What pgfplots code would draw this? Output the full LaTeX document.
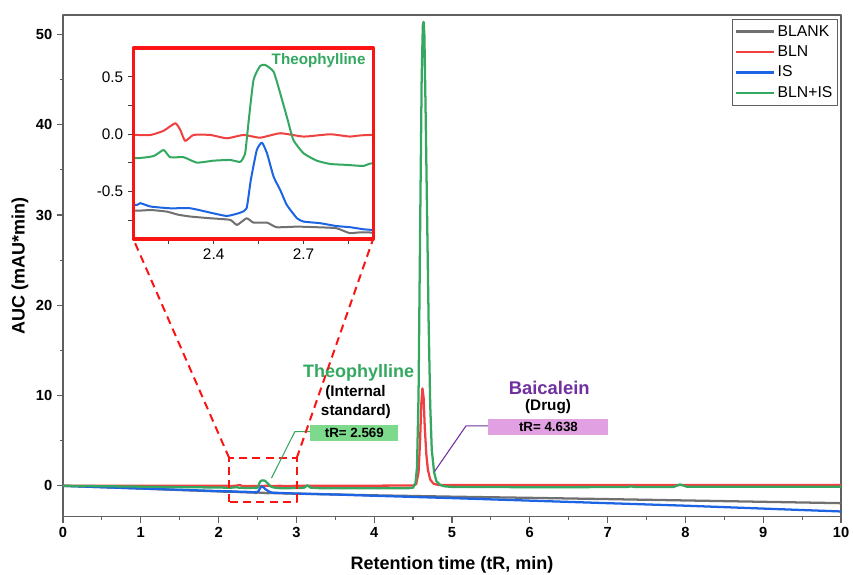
\documentclass[border=0pt]{standalone}
\usepackage{fontspec}
\setmainfont{Liberation Sans}
\usepackage{pgfplots}
\usepackage{pgfplotstable}
\pgfplotsset{compat=1.18}

\definecolor{cBlank}{RGB}{112,112,112}
\definecolor{cBln}{RGB}{240,64,64}
\definecolor{cIs}{RGB}{28,100,228}
\definecolor{cMix}{RGB}{52,168,96}
\definecolor{cBai}{RGB}{112,48,160}
\definecolor{boxGreen}{RGB}{125,218,140}
\definecolor{boxLilac}{RGB}{225,160,225}
\definecolor{zoomRed}{RGB}{250,20,20}
\definecolor{axGray}{RGB}{96,96,96}

% Chromatograms: retention time (min) vs. signal
\pgfplotstableread{
x y
0 0
0.5 -0.15
1.0 -0.3
1.5 -0.46
2.0 -0.62
2.139 -0.665
2.19 -0.66
2.244 -0.674
2.28 -0.70
2.322 -0.717
2.389 -0.732
2.455 -0.746
2.478 -0.79
2.51 -0.732
2.533 -0.77
2.578 -0.77
2.61 -0.81
2.678 -0.805
2.744 -0.81
2.81 -0.819
2.855 -0.862
2.928 -0.857
3.5 -0.96
4.0 -1.05
5.0 -1.2
6.0 -1.33
7.0 -1.47
8.0 -1.62
9.0 -1.77
10.0 -1.92
}\blank

\pgfplotstableread{
x y
0 0.02
1.0 0.02
2.0 0.0
2.139 -0.006
2.19 -0.006
2.233 0.03
2.272 0.096
2.289 0.037
2.305 -0.058
2.333 -0.006
2.389 -0.006
2.444 -0.035
2.50 -0.006
2.555 -0.03
2.622 0.009
2.70 -0.02
2.789 0.0
2.855 -0.02
2.928 -0.006
3.5 0.0
4.0 0.02
4.50 0.03
4.54 0.2
4.57 1.5
4.59 5.0
4.605 9.0
4.62 10.8
4.635 9.8
4.65 6.5
4.67 3.5
4.69 1.8
4.72 0.7
4.76 0.25
4.82 0.1
5.0 0.08
10.0 0.08
}\bln

\pgfplotstableread{
x y
0 0
1 -0.3
2 -0.58
2.139 -0.616
2.155 -0.6
2.19 -0.63
2.255 -0.645
2.322 -0.645
2.389 -0.683
2.444 -0.712
2.489 -0.683
2.51 -0.645
2.524 -0.398
2.544 -0.137
2.561 -0.073
2.578 -0.166
2.60 -0.37
2.622 -0.485
2.644 -0.616
2.678 -0.732
2.70 -0.761
2.755 -0.775
2.81 -0.8
2.855 -0.81
2.90 -0.828
2.928 -0.834
3.5 -0.96
4 -1.1
5 -1.36
6 -1.64
7 -1.92
8 -2.2
9 -2.52
10 -2.84
}\istd

\pgfplotstableread{
x y
0 0
0.5 -0.04
1.0 -0.09
1.5 -0.14
2.0 -0.19
2.139 -0.209
2.20 -0.19
2.233 -0.137
2.255 -0.2
2.30 -0.2
2.344 -0.247
2.40 -0.23
2.455 -0.224
2.489 -0.24
2.505 -0.166
2.516 0.096
2.533 0.473
2.555 0.595
2.572 0.604
2.60 0.545
2.622 0.357
2.644 0.153
2.666 -0.05
2.70 -0.166
2.744 -0.23
2.789 -0.259
2.844 -0.267
2.90 -0.276
2.928 -0.253
3.05 -0.25
3.10 -0.2
3.14 0.05
3.18 -0.2
3.3 -0.26
4.0 -0.27
4.45 -0.26
4.50 -0.2
4.53 0.3
4.55 2
4.57 10
4.59 28
4.61 45
4.625 51.0
4.635 51.4
4.645 50
4.66 42
4.68 30
4.70 18
4.72 9
4.74 4
4.77 1.5
4.80 0.5
4.85 0.1
4.9 -0.05
5.0 -0.12
6.0 -0.15
7.0 -0.14
7.25 -0.13
7.3 -0.06
7.35 -0.13
7.85 -0.12
7.93 0.15
8.02 -0.1
9 -0.1
10 -0.1
}\mix

\begin{document}
\begin{tikzpicture}
\path[use as bounding box] (-47.25pt,-43.725pt) rectangle (592.725pt,387.525pt);

\begin{axis}[
  name=main,
  at={(0pt,0pt)}, anchor=south west,
  scale only axis,
  width=583.725pt, height=376.275pt,
  xmin=0, xmax=10, ymin=-3.4, ymax=52.16,
  xtick={0,...,10}, ytick={0,10,...,50},
  minor x tick num=1, minor y tick num=1,
  xtick pos=lower, ytick pos=left, tick align=outside,
  major tick length=4.5pt, minor tick length=2.5pt,
  every tick/.style={axGray, line width=0.9pt},
  axis line style={axGray, line width=1pt},
  /pgf/number format/assume math mode=true,
  tick label style={font=\bfseries\fontsize{11}{13}\selectfont},
  xlabel={Retention time (tR, min)},
  ylabel={AUC (mAU*min)},
  label style={font=\bfseries\fontsize{13.5}{16}\selectfont},
  xlabel style={at={(axis description cs:0.5,-0.0956)}, anchor=center},
  ylabel style={at={(axis description cs:-0.0553,0.5)}, anchor=center},
  legend style={at={(rel axis cs:0.9961,0.992)}, anchor=north east,
    draw=axGray, inner xsep=2pt, inner ysep=2.5pt,
    row sep=1.6pt,
    font=\fontsize{11.8}{13}\selectfont, cells={anchor=west}},
  legend image code/.code={\draw[#1] (0cm,0cm) -- (1cm,0cm);},
  legend image post style={line width=1.8pt},
  line join=round,
]
\addplot[cBlank, line width=1.7pt] table {\blank};
\addlegendentry{BLANK}
\addplot[cBln, line width=1.7pt] table {\bln};
\addlegendentry{BLN}
\addplot[cIs, line width=1.7pt] table {\istd};
\addlegendentry{IS}
\addplot[cMix, line width=1.7pt] table {\mix};
\addlegendentry{BLN+IS}

% zoom window around the internal-standard peak
\draw[zoomRed, line width=1.5pt, dash pattern=on 6pt off 4pt]
  (axis cs:2.137,-1.74) rectangle (axis cs:3.004,3.07);
\coordinate (zl) at (axis cs:2.137,3.07);
\coordinate (zr) at (axis cs:3.004,3.07);

% peak annotations
\node[cMix, font=\bfseries\fontsize{13.5}{16}\selectfont] at (axis cs:3.80,12.55) {Theophylline};
\node[font=\bfseries\fontsize{11.5}{14}\selectfont] at (axis cs:3.76,10.30) {(Internal};
\node[font=\bfseries\fontsize{11.5}{14}\selectfont] at (axis cs:3.765,8.23) {standard)};
\draw[cMix, line width=0.8pt] (axis cs:2.68,0.85) -- (axis cs:2.98,6.0) -- (axis cs:3.18,6.0);
\node[fill=boxGreen, inner sep=0pt, minimum width=66.2pt, minimum height=12pt,
  font=\bfseries\fontsize{10}{12}\selectfont] at (axis cs:3.745,5.87) {tR= 2.569};

\node[cBai, font=\bfseries\fontsize{13.8}{16}\selectfont] at (axis cs:6.25,10.82) {Baicalein};
\node[font=\bfseries\fontsize{11.5}{14}\selectfont] at (axis cs:6.235,8.78) {(Drug)};
\draw[cBai, line width=0.8pt] (axis cs:4.775,1.58) -- (axis cs:5.18,6.64) -- (axis cs:5.468,6.64);
\node[fill=boxLilac, inner sep=0pt, minimum width=90pt, minimum height=12pt,
  font=\bfseries\fontsize{10}{12}\selectfont] at (axis cs:6.24,6.53) {tR= 4.638};
\end{axis}

% guide lines from the zoom window to the inset
\draw[zoomRed, line width=1.5pt, dash pattern=on 6pt off 4pt] (zl) -- (52.725pt,208.275pt);
\draw[zoomRed, line width=1.5pt, dash pattern=on 6pt off 4pt] (zr) -- (232.725pt,208.275pt);

\begin{axis}[
  name=inset,
  at={(52.725pt,208.275pt)}, anchor=south west,
  scale only axis,
  width=180pt, height=143.25pt,
  xmin=2.132, xmax=2.932, ymin=-0.912, ymax=0.752,
  xtick={2.4,2.7}, minor xtick={2.25,2.55,2.85},
  ytick={-0.5,0,0.5}, minor ytick={-0.75,-0.25,0.25},
  xtick pos=lower, ytick pos=left, tick align=outside,
  major tick length=4pt, minor tick length=4pt,
  every tick/.style={black!75, line width=0.8pt},
  axis line style={zoomRed, line width=2.4pt},
  axis on top,
  axis background/.style={fill=white},
  /pgf/number format/assume math mode=true,
  tick label style={font=\fontsize{11.5}{13}\selectfont},
  yticklabel style={/pgf/number format/.cd, fixed, fixed zerofill, precision=1},
  line join=round,
]
\addplot[cBlank, line width=1.5pt, smooth, tension=0.3] table {\blank};
\addplot[cBln, line width=1.5pt, smooth, tension=0.3] table {\bln};
\addplot[cIs, line width=1.5pt, smooth, tension=0.3] table {\istd};
\addplot[cMix, line width=1.5pt, smooth, tension=0.3] table {\mix};
\node[cMix, font=\bfseries\fontsize{11.4}{14}\selectfont] at (axis cs:2.75,0.64) {Theophylline};
\end{axis}
\end{tikzpicture}
\end{document}
